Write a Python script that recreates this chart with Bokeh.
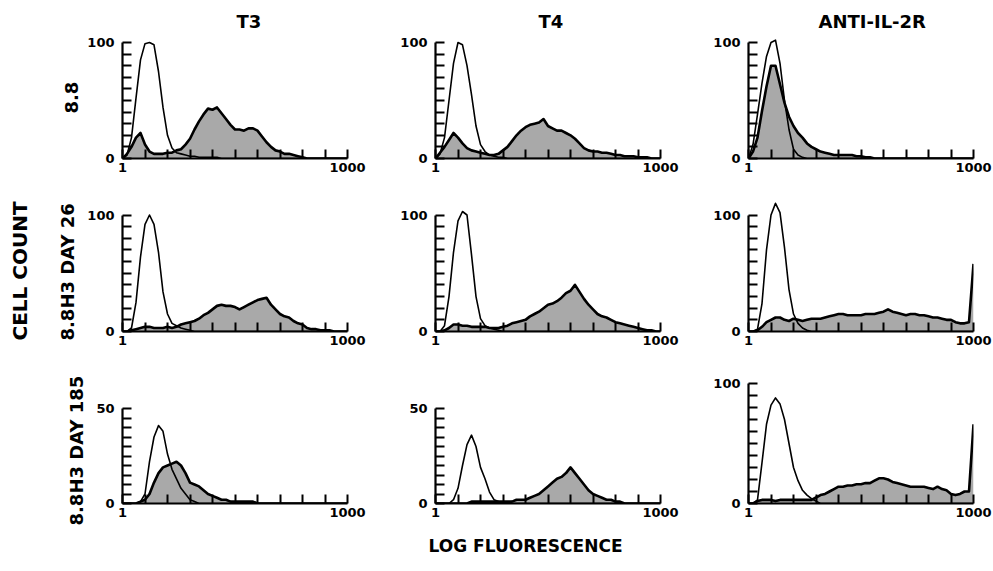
from bokeh.plotting import figure
from bokeh.models import Range1d, FixedTicker, PrintfTickFormatter, Title
from bokeh.layouts import column, row
from bokeh.embed import file_html
from bokeh.resources import INLINE

# channel grid: log10 of fluorescence, 0 .. 3 decades (1 .. 1000)
LOG_POS = [round(0.06 * i, 2) for i in range(51)]

COLUMN_TITLES = ["T3", "T4", "ANTI-IL-2R"]
ROW_TITLES = ["8.8", "8.8H3 DAY 26", "8.8H3 DAY 185"]
Y_TOP_TICK = [[100, 100, 100], [100, 100, 100], [50, 50, 100]]
X_TICK_LABELS = {1: "1", 1000: "1000"}

# open (control) histograms
c11 = [0, 3, 18, 52, 85, 99, 100, 98, 75, 44,
       20, 9, 5, 4, 3, 2, 2, 1, 1, 1,
       1, 1, 0, 0, 0, 0, 0, 0, 0, 0,
       0, 0, 0, 0, 0, 0, 0, 0, 0, 0,
       0, 0, 0, 0, 0, 0, 0, 0, 0, 0, 0]
c12 = [0, 4, 18, 50, 82, 100, 98, 80, 55, 28,
       12, 6, 3, 2, 1, 1, 0, 0, 0, 0,
       0, 0, 0, 0, 0, 0, 0, 0, 0, 0,
       0, 0, 0, 0, 0, 0, 0, 0, 0, 0,
       0, 0, 0, 0, 0, 0, 0, 0, 0, 0, 0]
c13 = [0, 12, 38, 65, 88, 100, 102, 82, 50, 25,
       8, 3, 1, 0, 0, 0, 0, 0, 0, 0,
       0, 0, 0, 0, 0, 0, 0, 0, 0, 0,
       0, 0, 0, 0, 0, 0, 0, 0, 0, 0,
       0, 0, 0, 0, 0, 0, 0, 0, 0, 0, 0]
c21 = [0, 0, 3, 25, 64, 92, 100, 92, 68, 34,
       15, 7, 5, 3, 2, 1, 0, 0, 0, 0,
       0, 0, 0, 0, 0, 0, 0, 0, 0, 0,
       0, 0, 0, 0, 0, 0, 0, 0, 0, 0,
       0, 0, 0, 0, 0, 0, 0, 0, 0, 0, 0]
c22 = [0, 0, 5, 30, 68, 95, 103, 100, 66, 30,
       11, 5, 3, 2, 1, 0, 0, 0, 0, 0,
       0, 0, 0, 0, 0, 0, 0, 0, 0, 0,
       0, 0, 0, 0, 0, 0, 0, 0, 0, 0,
       0, 0, 0, 0, 0, 0, 0, 0, 0, 0, 0]
c23 = [0, 0, 2, 24, 70, 100, 110, 102, 72, 36,
       15, 7, 3, 1, 0, 0, 0, 0, 0, 0,
       0, 0, 0, 0, 0, 0, 0, 0, 0, 0,
       0, 0, 0, 0, 0, 0, 0, 0, 0, 0,
       0, 0, 0, 0, 0, 0, 0, 0, 0, 0, 0]
c31 = [0, 0, 0, 0, 1, 5, 22, 35, 41, 38,
       26, 18, 13, 8, 5, 2, 1, 0, 0, 0,
       0, 0, 0, 0, 0, 0, 0, 0, 0, 0,
       0, 0, 0, 0, 0, 0, 0, 0, 0, 0,
       0, 0, 0, 0, 0, 0, 0, 0, 0, 0, 0]
c32 = [0, 0, 0, 0, 2, 8, 20, 31, 36, 30,
       19, 13, 6, 2, 1, 0, 0, 0, 0, 0,
       0, 0, 0, 0, 0, 0, 0, 0, 0, 0,
       0, 0, 0, 0, 0, 0, 0, 0, 0, 0,
       0, 0, 0, 0, 0, 0, 0, 0, 0, 0, 0]
c33 = [0, 0, 3, 34, 66, 82, 88, 83, 70, 50,
       30, 19, 11, 7, 4, 2, 0, 0, 0, 0,
       0, 0, 0, 0, 0, 0, 0, 0, 0, 0,
       0, 0, 0, 0, 0, 0, 0, 0, 0, 0,
       0, 0, 0, 0, 0, 0, 0, 0, 0, 0, 0]

# shaded (stained) histograms
f11 = [0, 4, 10, 18, 22, 12, 6, 4, 4, 4,
       5, 5, 7, 8, 12, 17, 25, 32, 38, 43,
       42, 44, 39, 34, 29, 25, 25, 24, 26, 26,
       24, 19, 14, 10, 7, 6, 4, 4, 3, 2,
       1, 0, 0, 0, 0, 0, 0, 0, 0, 0, 0]
f12 = [0, 5, 10, 16, 22, 18, 13, 9, 7, 6,
       5, 4, 3, 3, 4, 7, 10, 15, 20, 24,
       27, 29, 30, 31, 34, 28, 26, 24, 24, 22,
       20, 17, 13, 9, 7, 6, 6, 5, 5, 4,
       3, 3, 2, 2, 2, 1, 1, 1, 0, 0, 0]
f13 = [0, 6, 18, 41, 62, 80, 80, 64, 48, 36,
       28, 22, 18, 13, 10, 8, 6, 5, 4, 3,
       3, 3, 3, 3, 2, 2, 1, 1, 0, 0,
       0, 0, 0, 0, 0, 0, 0, 0, 0, 0,
       0, 0, 0, 0, 0, 0, 0, 0, 0, 0, 0]
f21 = [0, 0, 1, 2, 3, 4, 4, 3, 3, 3,
       4, 3, 4, 6, 7, 8, 9, 11, 14, 16,
       19, 22, 23, 22, 22, 21, 19, 21, 23, 25,
       27, 28, 29, 23, 19, 15, 13, 12, 9, 7,
       6, 3, 2, 2, 1, 1, 1, 0, 0, 0, 0]
f22 = [0, 0, 1, 3, 6, 6, 5, 5, 4, 4,
       4, 4, 3, 3, 3, 4, 5, 7, 8, 9,
       10, 13, 15, 17, 20, 23, 24, 26, 29, 33,
       35, 40, 34, 28, 23, 19, 15, 13, 12, 10,
       8, 7, 6, 5, 4, 3, 2, 1, 1, 0, 0]
f23 = [0, 0, 1, 4, 8, 10, 12, 12, 10, 9,
       11, 10, 9, 10, 11, 11, 11, 12, 13, 14,
       15, 15, 14, 14, 14, 14, 15, 15, 15, 16,
       17, 19, 17, 16, 15, 14, 15, 15, 14, 14,
       13, 12, 12, 11, 10, 10, 8, 7, 7, 8, 58]
f31 = [0, 0, 0, 0, 1, 2, 5, 11, 16, 19,
       20, 21, 22, 20, 16, 11, 10, 9, 7, 5,
       4, 3, 2, 2, 1, 1, 1, 1, 1, 1,
       0, 0, 0, 0, 0, 0, 0, 0, 0, 0,
       0, 0, 0, 0, 0, 0, 0, 0, 0, 0, 0]
f32 = [0, 0, 0, 0, 0, 0, 0, 0, 1, 1,
       1, 1, 1, 1, 1, 1, 1, 1, 2, 2,
       2, 3, 4, 5, 7, 9, 11, 13, 14, 16,
       19, 16, 13, 10, 7, 5, 4, 3, 2, 2,
       1, 1, 0, 0, 0, 0, 0, 0, 0, 0, 0]
f33 = [0, 0, 2, 3, 3, 3, 2, 3, 3, 3,
       3, 3, 3, 3, 3, 5, 7, 8, 10, 12,
       14, 14, 15, 15, 16, 16, 17, 17, 19, 21,
       21, 20, 18, 17, 16, 15, 14, 14, 14, 14,
       13, 12, 14, 12, 11, 8, 7, 8, 10, 10, 66]

CONTROL = [[c11, c12, c13], [c21, c22, c23], [c31, c32, c33]]
STAINED = [[f11, f12, f13], [f21, f22, f23], [f31, f32, f33]]

FONT = "DejaVu Sans"
FILL = "#a9a9a9"

LEFT_STRIP_W = 42
TOTAL_H = 571
FRAME_W = 225
FRAME_H = [122, 131, 128]
BORDER_L = [122 - LEFT_STRIP_W, 50, 50]
BORDER_R = [38, 38, 20]
BORDER_T = [36, 18, 20]
BORDER_B = [24, 24, 68]
TITLE_OFFSET = [114, 103, 70]
ROW_TITLE_OFFSET = [45, -9, -22]


def make_panel(r, c):
    top = Y_TOP_TICK[r][c]
    if r == 0:
        span = 116.0
    elif r == 1:
        span = 116.5
    else:
        span = 120.0 if top == 100 else 95.0
    y_end = top * FRAME_H[r] / span
    xs = [10 ** v for v in LOG_POS]
    p = figure(x_axis_type="log", x_range=Range1d(1, 1000),
               y_range=Range1d(0, y_end),
               frame_width=FRAME_W, frame_height=FRAME_H[r],
               min_border_left=BORDER_L[c], min_border_right=BORDER_R[c],
               min_border_top=BORDER_T[r], min_border_bottom=BORDER_B[r],
               toolbar_location=None, output_backend="svg", title=None,
               background_fill_color="white", border_fill_color="white")
    p.outline_line_color = None
    p.grid.visible = False

    p.varea(x=xs, y1=[0] * len(xs), y2=STAINED[r][c], fill_color=FILL, fill_alpha=1.0)
    p.line(xs, CONTROL[r][c], line_color="black", line_width=1.6, line_join="round")
    p.line(xs, STAINED[r][c], line_color="black", line_width=2.6, line_join="round")

    xa = p.xaxis[0]
    xa.ticker = FixedTicker(ticks=[1, 1000], minor_ticks=[10 ** (0.3 * k) for k in range(1, 10)])
    xa.formatter = PrintfTickFormatter(format="%d")
    xa.major_label_overrides = X_TICK_LABELS
    ya = p.yaxis[0]
    ya.ticker = FixedTicker(ticks=[0, top], minor_ticks=[top * k / 10 for k in range(1, 10)])
    ya.bounds = (0, top)
    for ax in (xa, ya):
        ax.axis_line_width = 2.2
        ax.axis_line_color = "black"
        ax.major_tick_in = 9
        ax.major_tick_out = 0
        ax.minor_tick_in = 9
        ax.minor_tick_out = 0
        ax.major_tick_line_width = 2
        ax.minor_tick_line_width = 2
        ax.major_tick_line_color = "black"
        ax.minor_tick_line_color = "black"
        ax.major_label_text_font = FONT
        ax.major_label_text_font_style = "bold"
        ax.major_label_text_font_size = "13px"
        ax.major_label_text_color = "black"
    xa.major_label_standoff = 4
    ya.major_label_standoff = 8

    if r == 0:
        p.add_layout(Title(text=COLUMN_TITLES[c], align="left", offset=TITLE_OFFSET[c],
                           text_font=FONT, text_font_style="bold", text_color="black",
                           text_font_size="18px", standoff=10), "above")
    if c == 0:
        p.add_layout(Title(text=ROW_TITLES[r], align="left", offset=ROW_TITLE_OFFSET[r],
                           text_font=FONT, text_font_style="bold", text_color="black",
                           text_font_size="18px", standoff=14), "left")
    if r == 2 and c == 1:
        p.add_layout(Title(text="LOG FLUORESCENCE", align="left", offset=-7,
                           text_font=FONT, text_font_style="bold", text_color="black",
                           text_font_size="17px", standoff=28), "below")
    return p


# left strip carrying the shared y-axis title
strip = figure(width=LEFT_STRIP_W, height=TOTAL_H, min_border_left=0, min_border_right=0,
               min_border_top=0, min_border_bottom=0,
               x_axis_location=None, y_axis_location=None,
               toolbar_location=None, output_backend="svg", title=None,
               background_fill_color="white", border_fill_color="white")
strip.outline_line_color = None
strip.grid.visible = False
strip.add_layout(Title(text="CELL COUNT", align="left", offset=TOTAL_H - 340,
                       text_font=FONT, text_font_style="bold", text_color="black",
                       text_font_size="20px", standoff=10), "left")

rows = [row(*[make_panel(r, c) for c in range(3)]) for r in range(3)]
layout = row(strip, column(*rows))

open("out.html", "w").write(file_html(layout, INLINE))
